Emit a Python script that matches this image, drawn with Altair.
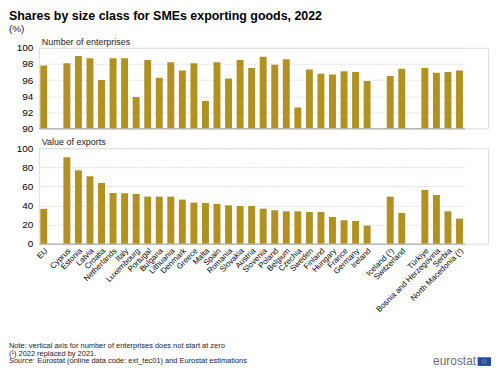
import altair as alt
import pandas as pd

FONT = "Liberation Sans"
BAR = "#B09122"

categories = ["EU", " ", "Cyprus", "Estonia", "Latvia", "Croatia", "Netherlands", "Italy",
              "Luxembourg", "Portugal", "Bulgaria", "Lithuania", "Denmark", "Greece", "Malta",
              "Spain", "Romania", "Slovakia", "Austria", "Slovenia", "Poland", "Belgium",
              "Czechia", "Sweden", "Finland", "Hungary", "France", "Germany", "Ireland", "  ",
              "Iceland (¹)", "Switzerland", "   ", "Türkiye", "Bosnia and Herzegovina", "Serbia",
              "North Macedonia (¹)"]
enterprises = [97.8, None, 98.1, 99.0, 98.7, 96.0, 98.7, 98.7, 93.9, 98.5, 96.3, 98.2, 97.2,
               98.1, 93.4, 98.2, 96.2, 98.5, 97.5, 98.9, 97.9, 98.6, 92.6, 97.3, 96.8, 96.7,
               97.1, 97.0, 95.9, None, 96.5, 97.4, None, 97.5, 96.9, 97.0, 97.2]
exports = [36.5, None, 90.6, 76.9, 70.6, 63.6, 53.1, 52.8, 52.1, 49.3, 49.3, 49.3, 46.2,
           43.0, 42.7, 41.6, 40.2, 39.5, 39.5, 36.7, 35.0, 33.9, 33.9, 33.2, 33.2, 28.0,
           24.5, 23.8, 18.9, None, 49.3, 32.2, None, 56.3, 51.0, 33.9, 26.2]
enterprise_ticks = [90, 92, 94, 96, 98, 100]
export_ticks = [0, 20, 40, 60, 80, 100]

title_text = "Shares by size class for SMEs exporting goods, 2022"
unit_text = "(%)"
panel_titles = ["Number of enterprises", "Value of exports"]
note_lines = ["Note: vertical axis for number of enterprises does not start at zero",
              "(¹) 2022 replaced by 2021."]
source_label = "Source:"
source_text = "Eurostat (online data code: ext_tec01) and Eurostat estimations"
logo_text = "eurostat"

df = pd.DataFrame({"country": categories, "enterprises": enterprises, "exports": exports})
one = pd.DataFrame({"k": [0]})

W = 452
xscale = alt.Scale(domain=categories, range=[0, 428.3], paddingInner=0.4, paddingOuter=0.13)


def grid_color(base):
    return {"condition": {"test": f"datum.value === {base}", "value": "#9a9a9a"}, "value": "#dedede"}


def grid_dash(base):
    return {"condition": {"test": f"datum.value === {base}", "value": [1, 0]}, "value": [2, 1]}


def label(text, x, y, size=7.5, weight="normal", style="normal", color="#222", align="left"):
    return alt.Chart(one).mark_text(text=text, align=align, baseline="alphabetic", fontSize=size,
                                    font=FONT, fontWeight=weight, fontStyle=style,
                                    color=color).encode(x=alt.value(x), y=alt.value(y))


bars1 = alt.Chart(df).mark_bar(color=BAR, clip=True).encode(
    x=alt.X("country:N", scale=xscale, sort=None,
            axis=alt.Axis(labels=False, ticks=False, title=None, domain=False, grid=False)),
    y=alt.Y("enterprises:Q", scale=alt.Scale(domain=[90, 100], zero=False, nice=False),
            axis=alt.Axis(values=enterprise_ticks, title=None, ticks=False, domain=False,
                          labelPadding=6, gridColor=grid_color(90), gridDash=grid_dash(90))),
    tooltip=["country:N", "enterprises:Q"],
)

top = alt.layer(
    bars1,
    label(title_text, -30, -28, size=12.5, weight="bold", color="#000"),
    label(unit_text, -30, -16, size=10),
    label(panel_titles[0], 3, -3, size=9),
).properties(width=W, height=81)

bars2 = alt.Chart(df).mark_bar(color=BAR).encode(
    x=alt.X("country:N", scale=xscale, sort=None,
            axis=alt.Axis(labelAngle=315, ticks=False, title=None, domain=False,
                          grid=False, labelPadding=3, labelFontSize=8)),
    y=alt.Y("exports:Q", scale=alt.Scale(domain=[0, 100], nice=False),
            axis=alt.Axis(values=export_ticks, title=None, ticks=False, domain=False,
                          labelPadding=6, gridColor=grid_color(0), gridDash=grid_dash(0))),
    tooltip=["country:N", "exports:Q"],
)

flag = alt.Chart(one).mark_rect(color="#1f4aa8").encode(
    x=alt.value(441.5), x2=alt.value(455), y=alt.value(210.3), y2=alt.value(219))
stars = alt.Chart(one).mark_point(shape="circle", filled=False, color="#f2d300", size=14,
                                  strokeWidth=0.8).encode(
    x=alt.value(448.2), y=alt.value(214.6))

bottom = alt.layer(
    bars2,
    label(panel_titles[1], 3, -3, size=9),
    label(note_lines[0], -30, 201),
    label(note_lines[1], -30, 208.6),
    label(source_label, -30, 216.2, style="italic"),
    label(source_text, -1.5, 216.2),
    label(logo_text, 440, 218, size=12, color="#6e6e6e", align="right"),
    flag, stars,
).properties(width=W, height=96)

chart = alt.vconcat(top, bottom, spacing=20, bounds="flush").properties(
    padding=0,
).configure_view(stroke=None).configure_axis(
    labelFont=FONT, labelFontSize=8, labelColor="#222"
).configure(font=FONT)

chart.save("out.html", embed_options={"renderer": "svg", "actions": False})
